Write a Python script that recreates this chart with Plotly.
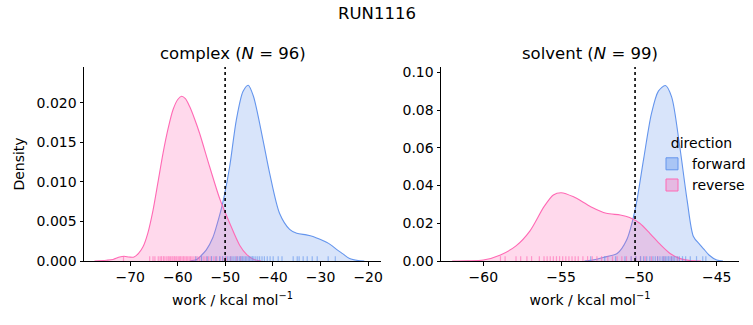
import plotly.graph_objects as go

# ---------------- data ----------------
# KDE curves (x in kcal/mol, density)
cx_fwd = [-57.5, -56.0, -55.4, -54.0, -52.6, -51.9, -50.6, -49.1, -47.7, -46.3, -45.2, -44.1,
          -42.1, -40.7, -38.6, -36.5, -35.0, -33.0, -31.6, -30.0, -28.0, -26.5, -25.3, -23.9,
          -22.1, -20.8]
cy_fwd = [0.0, 0.0002, 0.0005, 0.0014, 0.0030, 0.0043, 0.0072, 0.0119, 0.0178, 0.0214, 0.0222, 0.0208,
          0.0153, 0.0111, 0.0060, 0.0040, 0.0035, 0.0033, 0.0031, 0.0027, 0.0021, 0.0014, 0.0009, 0.0003,
          0.00005, 0.0]
cx_rev = [-77.5, -75.0, -73.6, -72.2, -71.3, -70.2, -69.2, -68.2, -67.3, -66.3, -65.2, -64.2, -63.1,
          -62.0, -61.0, -60.0, -59.2, -58.4, -57.5, -56.5, -55.4, -53.3, -51.2, -49.1, -47.0, -45.5,
          -44.0, -42.5]
cy_rev = [0.0, 0.0001, 0.0002, 0.0005, 0.0006, 0.0005, 0.0005, 0.0010, 0.0018, 0.0035, 0.0064, 0.0098,
          0.0136, 0.0168, 0.0191, 0.0204, 0.0208, 0.0205, 0.0195, 0.0180, 0.0161, 0.0119, 0.0079, 0.0048,
          0.0020, 0.0008, 0.0002, 0.0]

sx_fwd = [-53.5, -52.8, -52.3, -51.4, -50.8, -50.25, -49.7, -49.2, -48.75, -48.3, -47.9, -47.4,
          -46.9, -46.5, -46.1, -45.8, -45.5, -45.0, -44.6]
sy_fwd = [0.0, 0.0008, 0.0019, 0.0040, 0.0110, 0.0270, 0.0540, 0.0780, 0.0900, 0.0930, 0.0870, 0.0620,
          0.0320, 0.0130, 0.0088, 0.0060, 0.0032, 0.0005, 0.0]
sx_rev = [-62.0, -61.0, -60.0, -58.9, -57.9, -57.0, -56.1, -55.5, -55.0, -54.2, -53.1, -52.1, -51.2,
          -50.6, -49.95, -49.3, -48.6, -48.0, -47.4, -46.7, -46.0]
sy_rev = [0.0, 0.0001, 0.0005, 0.0032, 0.0080, 0.0160, 0.0288, 0.0350, 0.0362, 0.0340, 0.0288, 0.0253,
          0.0244, 0.0231, 0.0200, 0.0147, 0.0085, 0.0040, 0.0014, 0.0002, 0.0]

# rug samples (approximate positions of the work values)
rug_c_rev = [-71.4, -65.9, -65.2, -64.8, -64.1, -63.7, -63.4, -63.0, -62.7, -62.3, -62.0, -61.8, -61.5,
             -61.2, -61.0, -60.7, -60.4, -60.2, -59.9, -59.6, -59.4, -59.1, -58.8, -58.5, -58.2, -57.9,
             -57.6, -57.3, -57.0, -56.6, -56.2, -55.8, -55.4, -55.0, -54.5, -54.0, -53.5, -53.0, -52.4,
             -51.8, -51.1, -50.5, -49.8, -48.9, -47.6, -46.8]
rug_c_fwd = [-56.2, -55.0, -53.8, -52.9, -52.0, -51.2, -50.6, -50.0, -49.5, -49.0, -48.6, -48.2, -47.8,
             -47.4, -47.0, -46.7, -46.4, -46.1, -45.8, -45.5, -45.2, -44.9, -44.6, -44.3, -44.0, -43.6,
             -43.2, -42.8, -42.3, -41.8, -41.2, -40.6, -39.95, -38.9, -38.1, -35.75, -34.9, -34.5,
             -33.65, -32.8, -31.75, -30.7, -28.4, -26.9]
rug_s_rev = [-58.9, -58.6, -57.9, -57.6, -57.2, -56.9, -56.4, -56.1, -55.9, -55.7, -55.5, -55.3, -55.1,
             -54.9, -54.7, -54.5, -54.3, -54.1, -53.9, -53.6, -53.3, -53.0, -52.7, -52.4, -52.0, -51.7,
             -51.4, -51.1, -50.8, -50.5, -50.2, -49.9, -49.6, -49.2, -48.8, -48.4, -47.9, -47.5]
rug_s_fwd = [-53.1, -52.2, -51.5, -50.9, -50.5, -50.2, -49.9, -49.7, -49.5, -49.3, -49.1, -48.95, -48.8,
             -48.65, -48.5, -48.4, -48.3, -48.2, -48.1, -48.0, -47.9, -47.8, -47.7, -47.55, -47.4, -47.2,
             -47.0, -46.7, -46.3, -45.9, -45.7]

vlines = [-50.05, -50.25]           # dotted reference lines (complex, solvent)
titles = ["complex (<i>N</i> = 96)", "solvent (<i>N</i> = 99)"]
suptitle = "RUN1116"
xlabel = "work / kcal mol<sup>−1</sup>"
ylabel = "Density"
directions = ["forward", "reverse"]

# ---------------- style ----------------
BLUE = "#6495ED"
PINK = "#FF69B4"
BLUE_FILL = "rgba(100,149,237,0.25)"
PINK_FILL = "rgba(255,105,180,0.25)"
BLUE_LEG = "rgba(100,149,237,0.4)"
PINK_LEG = "rgba(255,105,180,0.35)"
FONT = "DejaVu Sans"
FS = 14

xr = [[-79.7, -17.3], [-62.72, -43.57]]
yr = [[0, 0.0245], [0, 0.1028]]

fig = go.Figure()


def rug(xs, yrng, color, xa, ya):
    h = (yrng[1] - yrng[0]) * 0.025
    px, py = [], []
    for v in xs:
        px += [v, v, None]
        py += [0, h, None]
    fig.add_trace(go.Scatter(x=px, y=py, mode="lines", xaxis=xa, yaxis=ya,
                             line=dict(color=color, width=1.2), opacity=0.6,
                             showlegend=False, hoverinfo="skip"))


panels = [
    (cx_fwd, cy_fwd, cx_rev, cy_rev, rug_c_fwd, rug_c_rev, "x", "y"),
    (sx_fwd, sy_fwd, sx_rev, sy_rev, rug_s_fwd, rug_s_rev, "x2", "y2"),
]
for i, (xf, yf, xrv, yrv, rf, rr, xa, ya) in enumerate(panels):
    fig.add_trace(go.Scatter(x=xf, y=yf, mode="lines", line=dict(color=BLUE, width=1.1, shape="spline", smoothing=0.8),
                             fill="tozeroy", fillcolor=BLUE_FILL, showlegend=False, xaxis=xa, yaxis=ya))
    fig.add_trace(go.Scatter(x=xrv, y=yrv, mode="lines", line=dict(color=PINK, width=1.1, shape="spline", smoothing=0.8),
                             fill="tozeroy", fillcolor=PINK_FILL, showlegend=False, xaxis=xa, yaxis=ya))
    rug(rr, yr[i], PINK, xa, ya)
    rug(rf, yr[i], BLUE, xa, ya)
    fig.add_trace(go.Scatter(x=[vlines[i], vlines[i]], y=[yr[i][0], yr[i][1]], mode="lines",
                             line=dict(color="black", width=1.6, dash="dot"),
                             showlegend=False, hoverinfo="skip", xaxis=xa, yaxis=ya))

# legend entries (patches)
for name, col, fc in zip(directions, [BLUE, PINK], [BLUE_LEG, PINK_LEG]):
    fig.add_trace(go.Bar(x=[None], y=[None], name=name, marker=dict(color=fc, line=dict(color=col, width=1)),
                         xaxis="x2", yaxis="y2", showlegend=True))

W, H = 753, 325
dom_x = [[84 / W, 381 / W], [441 / W, 739 / W]]
dom_y = [1 - 261 / H, 1 - 67 / H]

axis_common = dict(showline=True, linecolor="black", linewidth=1, ticks="outside", ticklen=3.5,
                   tickwidth=1, tickcolor="black", showgrid=False, zeroline=False, automargin=False,
                   tickfont=dict(family=FONT, size=FS, color="black"), mirror=False)

fig.update_layout(
    width=W, height=H, margin=dict(l=0, r=0, t=0, b=0, autoexpand=False),
    plot_bgcolor="white", paper_bgcolor="white",
    font=dict(family=FONT, size=FS, color="black"),
    xaxis=dict(domain=dom_x[0], range=xr[0], tickvals=[-70, -60, -50, -40, -30, -20], anchor="y",
               title=dict(text=xlabel, font=dict(size=FS), standoff=10), **axis_common),
    yaxis=dict(domain=dom_y, range=yr[0], tickvals=[0, 0.005, 0.01, 0.015, 0.02], tickformat=".3f",
               anchor="x", title=dict(text=ylabel, font=dict(size=FS), standoff=8), **axis_common),
    xaxis2=dict(domain=dom_x[1], range=xr[1], tickvals=[-60, -55, -50, -45], anchor="y2",
                title=dict(text=xlabel, font=dict(size=FS), standoff=10), **axis_common),
    yaxis2=dict(domain=dom_y, range=yr[1], tickvals=[0, 0.02, 0.04, 0.06, 0.08, 0.10], tickformat=".2f",
                anchor="x2", **axis_common),
    showlegend=True,
    legend=dict(x=652 / W, y=1 - 130 / H, xanchor="left", yanchor="top",
                bgcolor="rgba(0,0,0,0)", font=dict(family=FONT, size=FS),
                title=dict(text="direction", side="top center", font=dict(size=FS)),
                tracegroupgap=2),
)

annots = [dict(text=suptitle, x=0.5, y=1 - 13 / H, xref="paper", yref="paper", showarrow=False,
               font=dict(family=FONT, size=16.5, color="black"), xanchor="center", yanchor="middle")]
for i in range(2):
    annots.append(dict(text=titles[i], x=(dom_x[i][0] + dom_x[i][1]) / 2, y=1 - 54 / H, xref="paper",
                       yref="paper", showarrow=False, font=dict(family=FONT, size=16.5, color="black"),
                       xanchor="center", yanchor="middle"))
fig.update_layout(annotations=annots)

fig.write_html("out.html")
